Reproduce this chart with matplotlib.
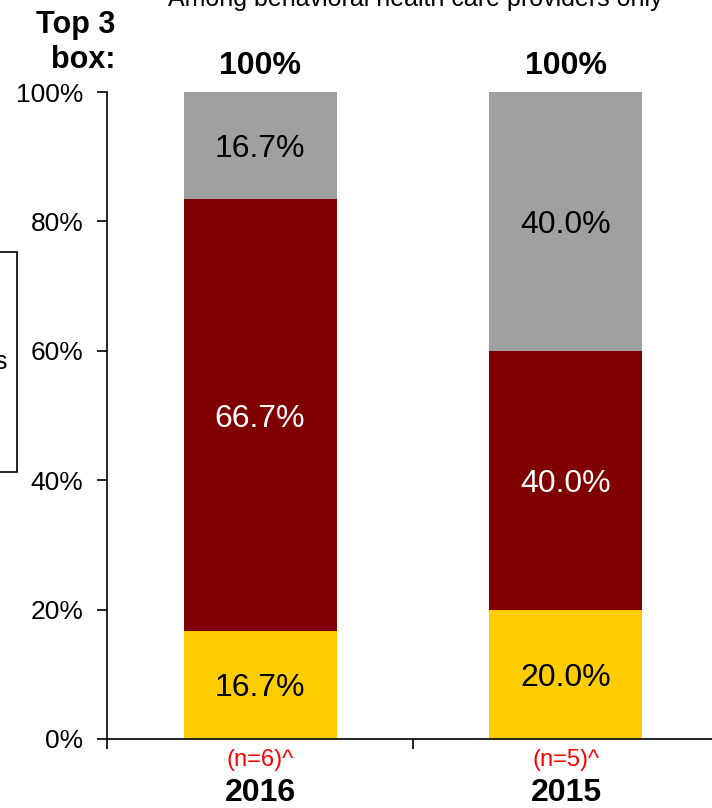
import matplotlib
matplotlib.use("Agg")
import matplotlib.pyplot as plt
from matplotlib.patches import Rectangle
import numpy as np

plt.rcParams['font.family'] = ['Liberation Sans', 'DejaVu Sans']

years = ["2016", "2015"]
sample_sizes = ["(n=6)^", "(n=5)^"]
bottom_share = [16.7, 20.0]
middle_share = [66.7, 40.0]
top_share = [16.7, 40.0]
top3_box = ["100%", "100%"]
ytick_vals = [0, 20, 40, 60, 80, 100]

colors = {"bottom": "#FFCC00", "middle": "#800000", "top": "#A0A0A0"}

W, H = 712, 808
fig = plt.figure(figsize=(W / 100, H / 100), dpi=100)

# axes placed in pixel terms: y 0% at 739, 100% at 92; x -0.5 at 107, 1.5 at 719
x0, x1 = 107, 719
y0, y1 = 739, 92
ax = fig.add_axes([x0 / W, (H - y0) / H, (x1 - x0) / W, (y0 - y1) / H])

x = np.arange(len(years))
width = 0.5
b = np.array(bottom_share)
m = np.array(middle_share)
t = np.array(top_share)

ax.bar(x, b, width, color=colors["bottom"])
ax.bar(x, m, width, bottom=b, color=colors["middle"])
ax.bar(x, t, width, bottom=b + m, color=colors["top"])

seg_kw = dict(ha="center", va="center_baseline", fontsize=23)
for i in range(len(years)):
    ax.text(x[i], b[i] / 2, f"{b[i]:.1f}%", color="black", **seg_kw)
    ax.text(x[i], b[i] + m[i] / 2, f"{m[i]:.1f}%", color="white", **seg_kw)
    ax.text(x[i], b[i] + m[i] + t[i] / 2, f"{t[i]:.1f}%", color="black", **seg_kw)

ax.set_xlim(-0.5, 1.5)
ax.set_ylim(0, 100)
ax.set_yticks(ytick_vals)
ax.set_yticklabels([f"{v}%" for v in ytick_vals], fontsize=19)
ax.set_xticks([-0.5, 0.5, 1.5])
ax.set_xticklabels([])
ax.tick_params(axis="both", direction="out", length=7, width=1.2, colors="black")
ax.tick_params(axis="y", pad=10)
for s in ["top", "right"]:
    ax.spines[s].set_visible(False)
for s in ["left", "bottom"]:
    ax.spines[s].set_linewidth(1.2)

# sample sizes and year labels below the bars, top-3-box totals above
for i in range(len(years)):
    ax.annotate(sample_sizes[i], xy=(x[i], 0), xycoords="data",
                xytext=(0, -21), textcoords="offset pixels",
                ha="center", va="center", fontsize=17, color="red",
                annotation_clip=False)
    ax.annotate(years[i], xy=(x[i], 0), xycoords="data",
                xytext=(0, -54), textcoords="offset pixels",
                ha="center", va="center", fontsize=23, fontweight="bold",
                annotation_clip=False)
    ax.annotate(top3_box[i], xy=(x[i], 100), xycoords="data",
                xytext=(0, 26), textcoords="offset pixels",
                ha="center", va="center", fontsize=23, fontweight="bold",
                annotation_clip=False)

fig.text(115 / W, 1 - 25 / H, "Top 3", ha="right", va="center",
         fontsize=22, fontweight="bold")
fig.text(115 / W, 1 - 60 / H, "box:", ha="right", va="center",
         fontsize=22, fontweight="bold")

fig.text(415 / W, 1 - 6 / H, "Among behavioral health care providers only",
         ha="center", va="baseline", fontsize=18)

# legend frame at the left edge
fig.patches.append(Rectangle((-40 / W, 1 - 472 / H), 57 / W, 220 / H,
                             transform=fig.transFigure, fill=False,
                             edgecolor="black", linewidth=1.2))
fig.text(7 / W, 1 - 362 / H, "Providers", ha="right", va="center", fontsize=18)

fig.savefig("out.png", dpi=100)
